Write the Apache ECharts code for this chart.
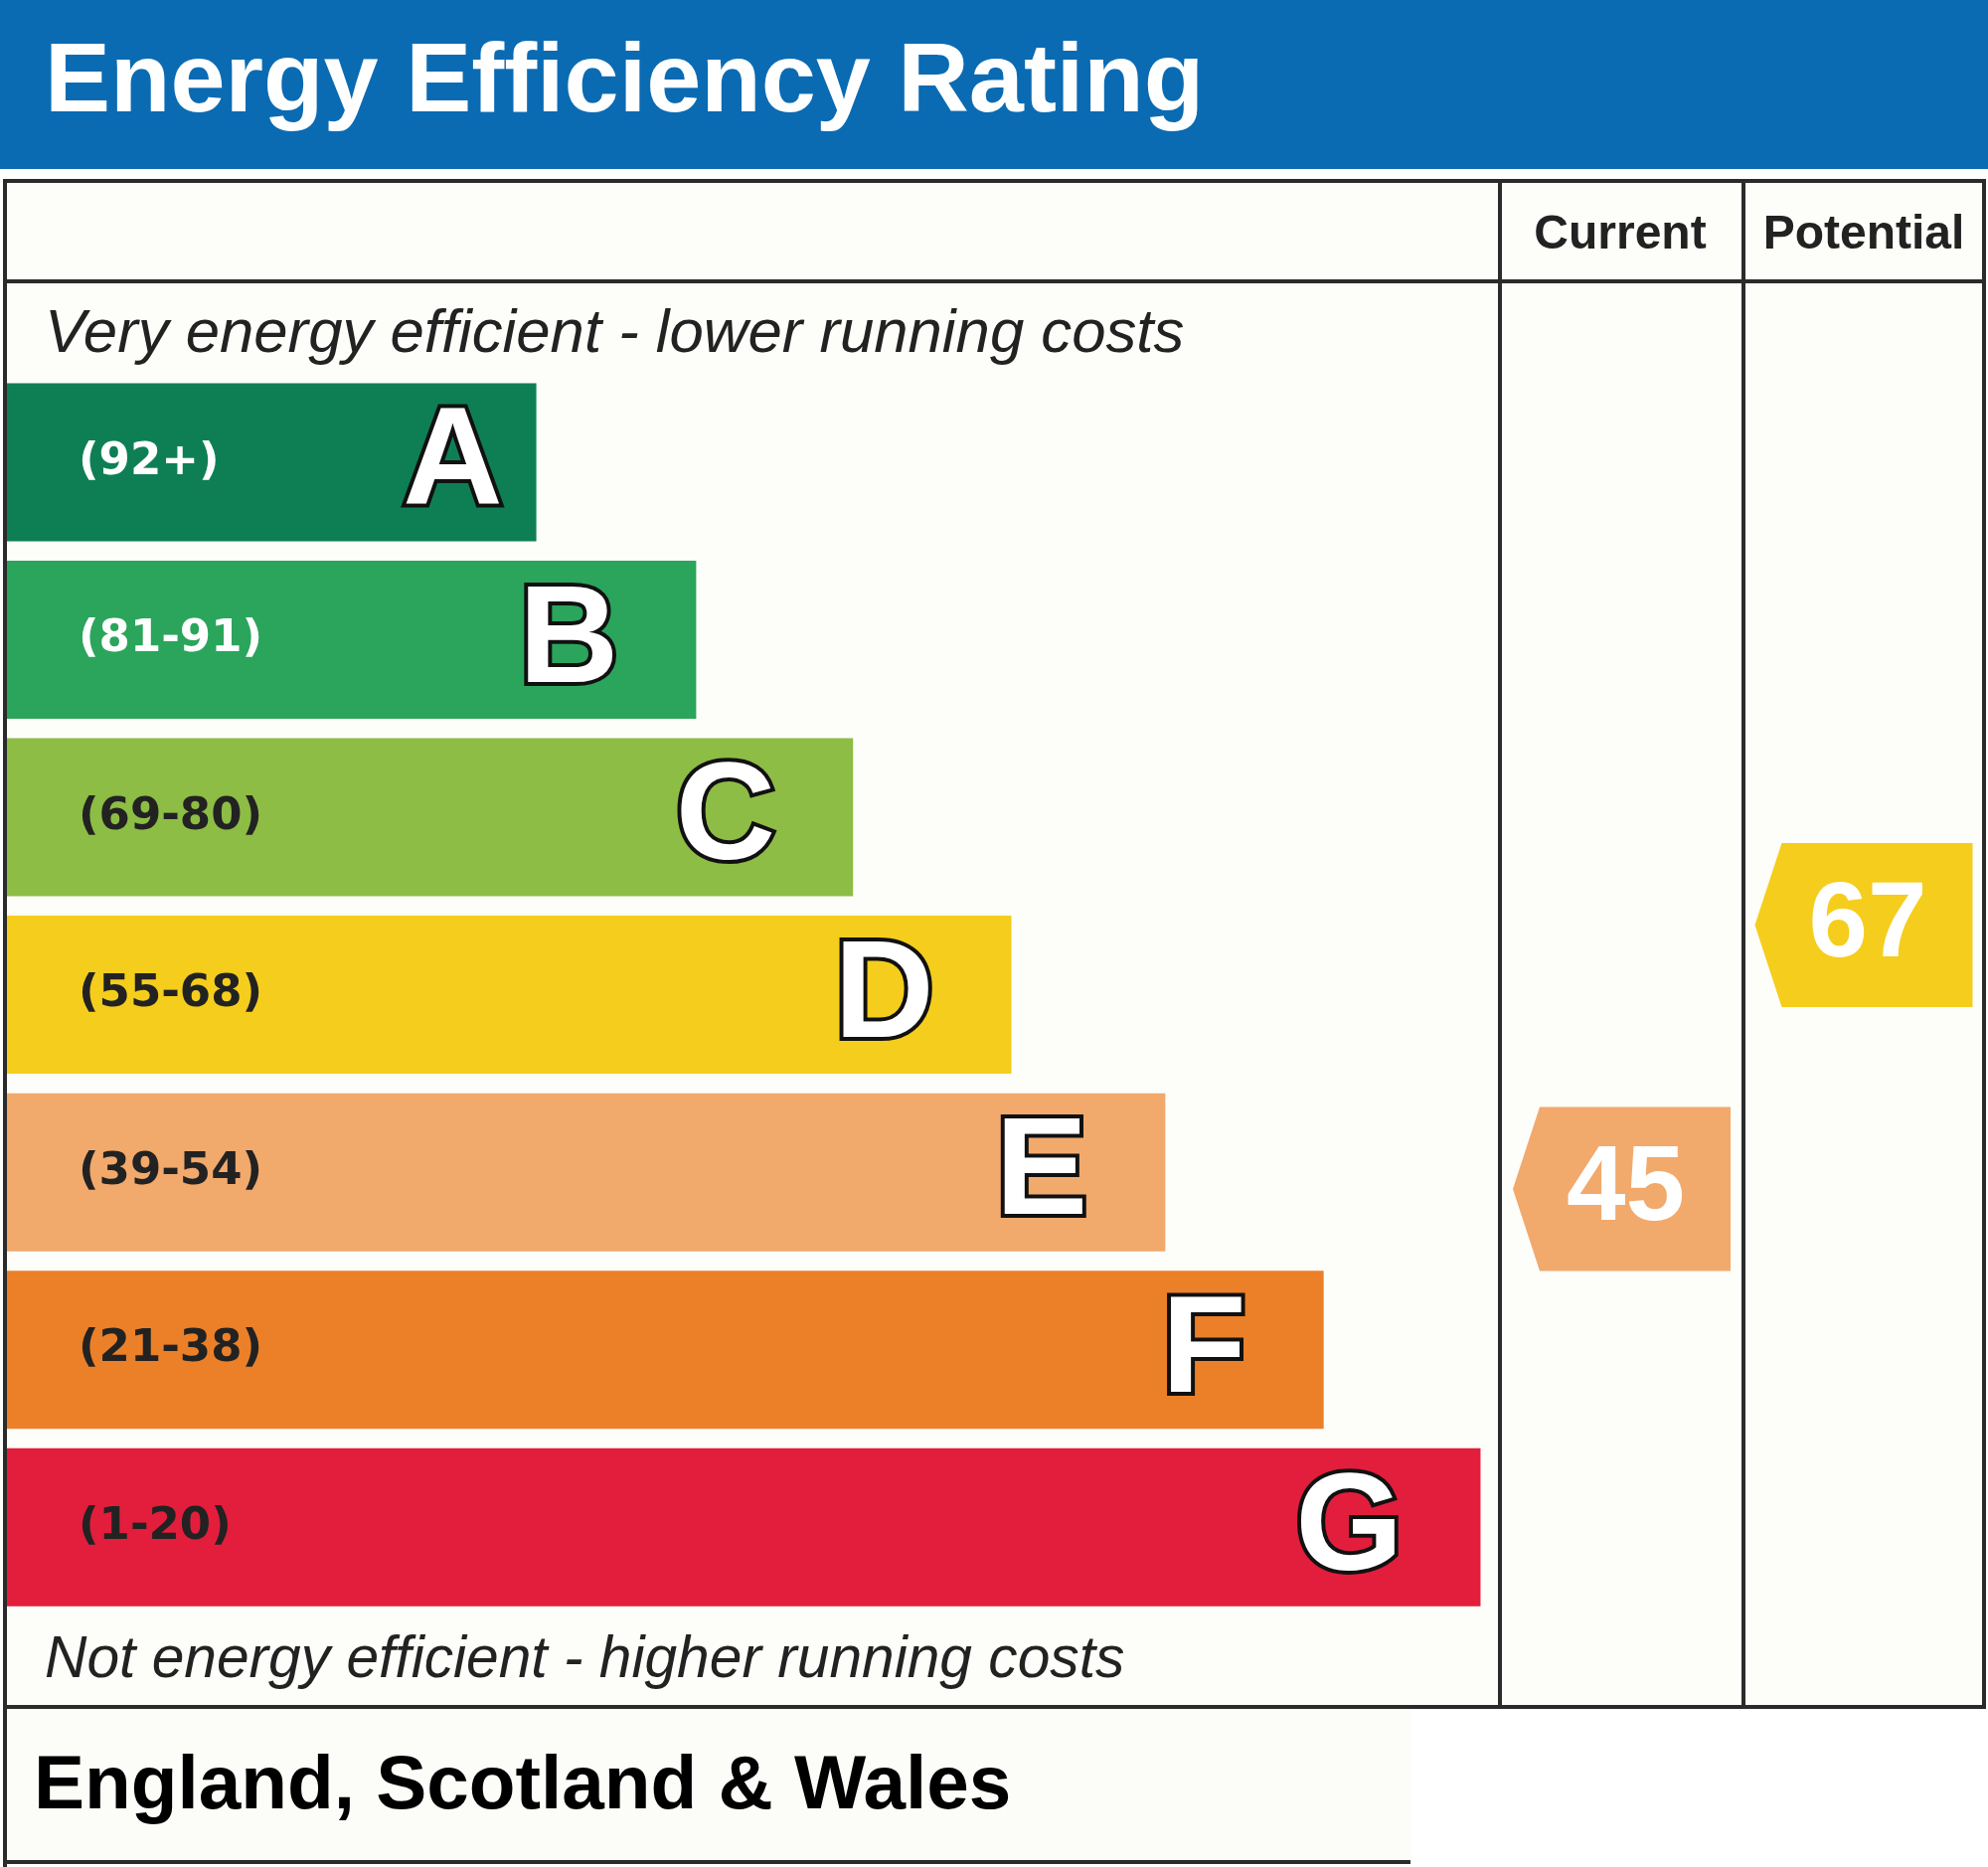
<!DOCTYPE html>
<html>
<head>
<meta charset="utf-8">
<script src="https://cdn.jsdelivr.net/npm/echarts@6/dist/echarts.min.js"></script>
<style>
  html, body { margin: 0; padding: 0; background: #ffffff; }
  #chart { width: 2000px; height: 1878px; }
</style>
</head>
<body>
<div id="chart"></div>
<script>
// bands, top (most efficient) to bottom
var bands = ['A', 'B', 'C', 'D', 'E', 'F', 'G'];
var bandRanges = ['(92+)', '(81-91)', '(69-80)', '(55-68)', '(39-54)', '(21-38)', '(1-20)'];
var bandLow = [92, 81, 69, 55, 39, 21, 1];
var bandHigh = [100, 91, 80, 68, 54, 38, 20];
// bar length as % of the rating column width
var barLengths = [35.5, 46.2, 56.7, 67.3, 77.6, 88.2, 98.7];
var bandColors = ['#0e7f55', '#2aa55b', '#8dbd45', '#f5cd1c', '#f2a96c', '#eb8028', '#e21e3c'];
var rangeTextColors = ['#ffffff', '#ffffff', '#222222', '#222222', '#222222', '#222222', '#222222'];

var currentRating = 45;
var potentialRating = 67;

function bandOf(v) {
    for (var i = 0; i < bands.length; i++) {
        if (v >= bandLow[i]) return i;
    }
    return bands.length - 1;
}
// position on a 0..7 band scale (0 = top of A)
function bandPos(v) {
    var i = bandOf(v);
    var frac = (v - bandLow[i] + 0.5) / (bandHigh[i] - bandLow[i] + 1);
    return i + 1 - frac;
}

var top0 = 375.6, h0 = 1250;
var arrowPath = 'path://M27,0 L219,0 L219,165 L27,165 L0,82.5 Z';
var lineColor = '#2b2b2b';

function hLine(x1, x2, y, w) {
    return { type: 'line', z: 100, shape: { x1: x1, y1: y, x2: x2, y2: y },
             style: { stroke: lineColor, lineWidth: w || 4 } };
}
function vLine(x, y1, y2, w) {
    return { type: 'line', z: 100, shape: { x1: x, y1: y1, x2: x, y2: y2 },
             style: { stroke: lineColor, lineWidth: w || 4 } };
}

function arrowSeries(axisIdx, rating) {
    return {
        type: 'scatter',
        xAxisIndex: axisIdx,
        yAxisIndex: axisIdx,
        symbol: arrowPath,
        symbolSize: [219, 165],
        symbolKeepAspect: false,
        itemStyle: { opacity: 1 },
        data: [{ value: [0.5, bandPos(rating)],
                 itemStyle: { color: bandColors[bandOf(rating)], opacity: 1 } }],
        label: {
            show: true, position: 'inside', offset: [4, 2],
            fontFamily: '"Liberation Sans", Arial, sans-serif', fontWeight: 'bold', fontSize: 107,
            color: '#ffffff', opacity: 1,
            formatter: function () { return String(rating); }
        },
        emphasis: { disabled: true }
    };
}

var myChart = echarts.init(document.getElementById('chart'), null, { renderer: 'canvas' });

var option = {
    backgroundColor: '#ffffff',
    animation: false,
    grid: [
        { left: 6, top: top0, width: 1503, height: h0 },
        { left: 1509, top: top0, width: 245, height: h0 },
        { left: 1754, top: top0, width: 242, height: h0 }
    ],
    xAxis: [
        { gridIndex: 0, type: 'value', min: 0, max: 100, show: false },
        { gridIndex: 1, type: 'value', min: 0, max: 1, show: false },
        { gridIndex: 2, type: 'value', min: 0, max: 1, show: false }
    ],
    yAxis: [
        { gridIndex: 0, type: 'category', data: bands, inverse: true, show: false },
        { gridIndex: 1, type: 'value', min: 0, max: 7, inverse: true, show: false },
        { gridIndex: 2, type: 'value', min: 0, max: 7, inverse: true, show: false }
    ],
    graphic: [
        { type: 'rect', z: -10, shape: { x: 0, y: 0, width: 2000, height: 170 }, style: { fill: '#0a6bb3' } },
        { type: 'rect', z: -10, shape: { x: 3, y: 182, width: 1995, height: 1535 }, style: { fill: '#fdfdfa' } },
        { type: 'rect', z: -10, shape: { x: 3, y: 1717, width: 1416, height: 158 }, style: { fill: '#fcfcf9' } },
        { type: 'text', z: 50, x: 45, y: 85,
          style: { text: 'Energy Efficiency Rating', fill: '#ffffff', font: 'bold 99px "Liberation Sans", Arial, sans-serif',
                   textVerticalAlign: 'middle' } },
        { type: 'text', z: 50, x: 1630, y: 237,
          style: { text: 'Current', fill: '#222222', font: 'bold 48px "Liberation Sans", Arial, sans-serif',
                   textAlign: 'center', textVerticalAlign: 'middle' } },
        { type: 'text', z: 50, x: 1875, y: 237,
          style: { text: 'Potential', fill: '#222222', font: 'bold 48px "Liberation Sans", Arial, sans-serif',
                   textAlign: 'center', textVerticalAlign: 'middle' } },
        { type: 'text', z: 50, x: 45, y: 337,
          style: { text: 'Very energy efficient - lower running costs', fill: '#222222',
                   font: 'italic 61.7px "Liberation Sans", Arial, sans-serif', textVerticalAlign: 'middle' } },
        { type: 'text', z: 50, x: 45, y: 1671,
          style: { text: 'Not energy efficient - higher running costs', fill: '#222222',
                   font: 'italic 58.7px "Liberation Sans", Arial, sans-serif', textVerticalAlign: 'middle' } },
        { type: 'text', z: 50, x: 34, y: 1798,
          style: { text: 'England, Scotland & Wales', fill: '#000000',
                   font: 'bold 76.5px "Liberation Sans", Arial, sans-serif', textVerticalAlign: 'middle' } },
        hLine(3, 1998, 182),
        hLine(3, 1998, 283),
        hLine(3, 1998, 1717),
        hLine(3, 1419, 1873),
        vLine(5, 180, 1878),
        vLine(1996, 180, 1719),
        vLine(1509, 182, 1717),
        vLine(1754, 182, 1717)
    ],
    series: [
        {
            type: 'bar',
            xAxisIndex: 0,
            yAxisIndex: 0,
            barWidth: 159,
            barGap: '-100%',
            data: barLengths.map(function (v, i) {
                return { value: v, itemStyle: { color: bandColors[i] }, label: { color: rangeTextColors[i] } };
            }),
            label: {
                show: true,
                position: 'insideLeft',
                distance: 73,
                fontFamily: 'DejaVu Sans',
                fontWeight: 'bold',
                fontSize: 45,
                formatter: function (p) { return bandRanges[p.dataIndex]; }
            }
        },
        {
            type: 'bar',
            xAxisIndex: 0,
            yAxisIndex: 0,
            barWidth: 159,
            barGap: '-100%',
            itemStyle: { color: 'rgba(0,0,0,0)' },
            data: barLengths.map(function (v, i) {
                return { value: v, label: { distance: i === 0 ? 34 : 78 } };
            }),
            label: {
                show: true,
                position: 'insideRight',
                offset: [0, 4],
                fontFamily: '"Liberation Sans", Arial, sans-serif',
                fontWeight: 'bold',
                fontSize: 139,
                color: '#ffffff',
                textBorderColor: '#111111',
                textBorderWidth: 8,
                formatter: function (p) { return bands[p.dataIndex]; }
            }
        },
        arrowSeries(1, currentRating),
        arrowSeries(2, potentialRating)
    ]
};

myChart.setOption(option);
</script>
</body>
</html>
